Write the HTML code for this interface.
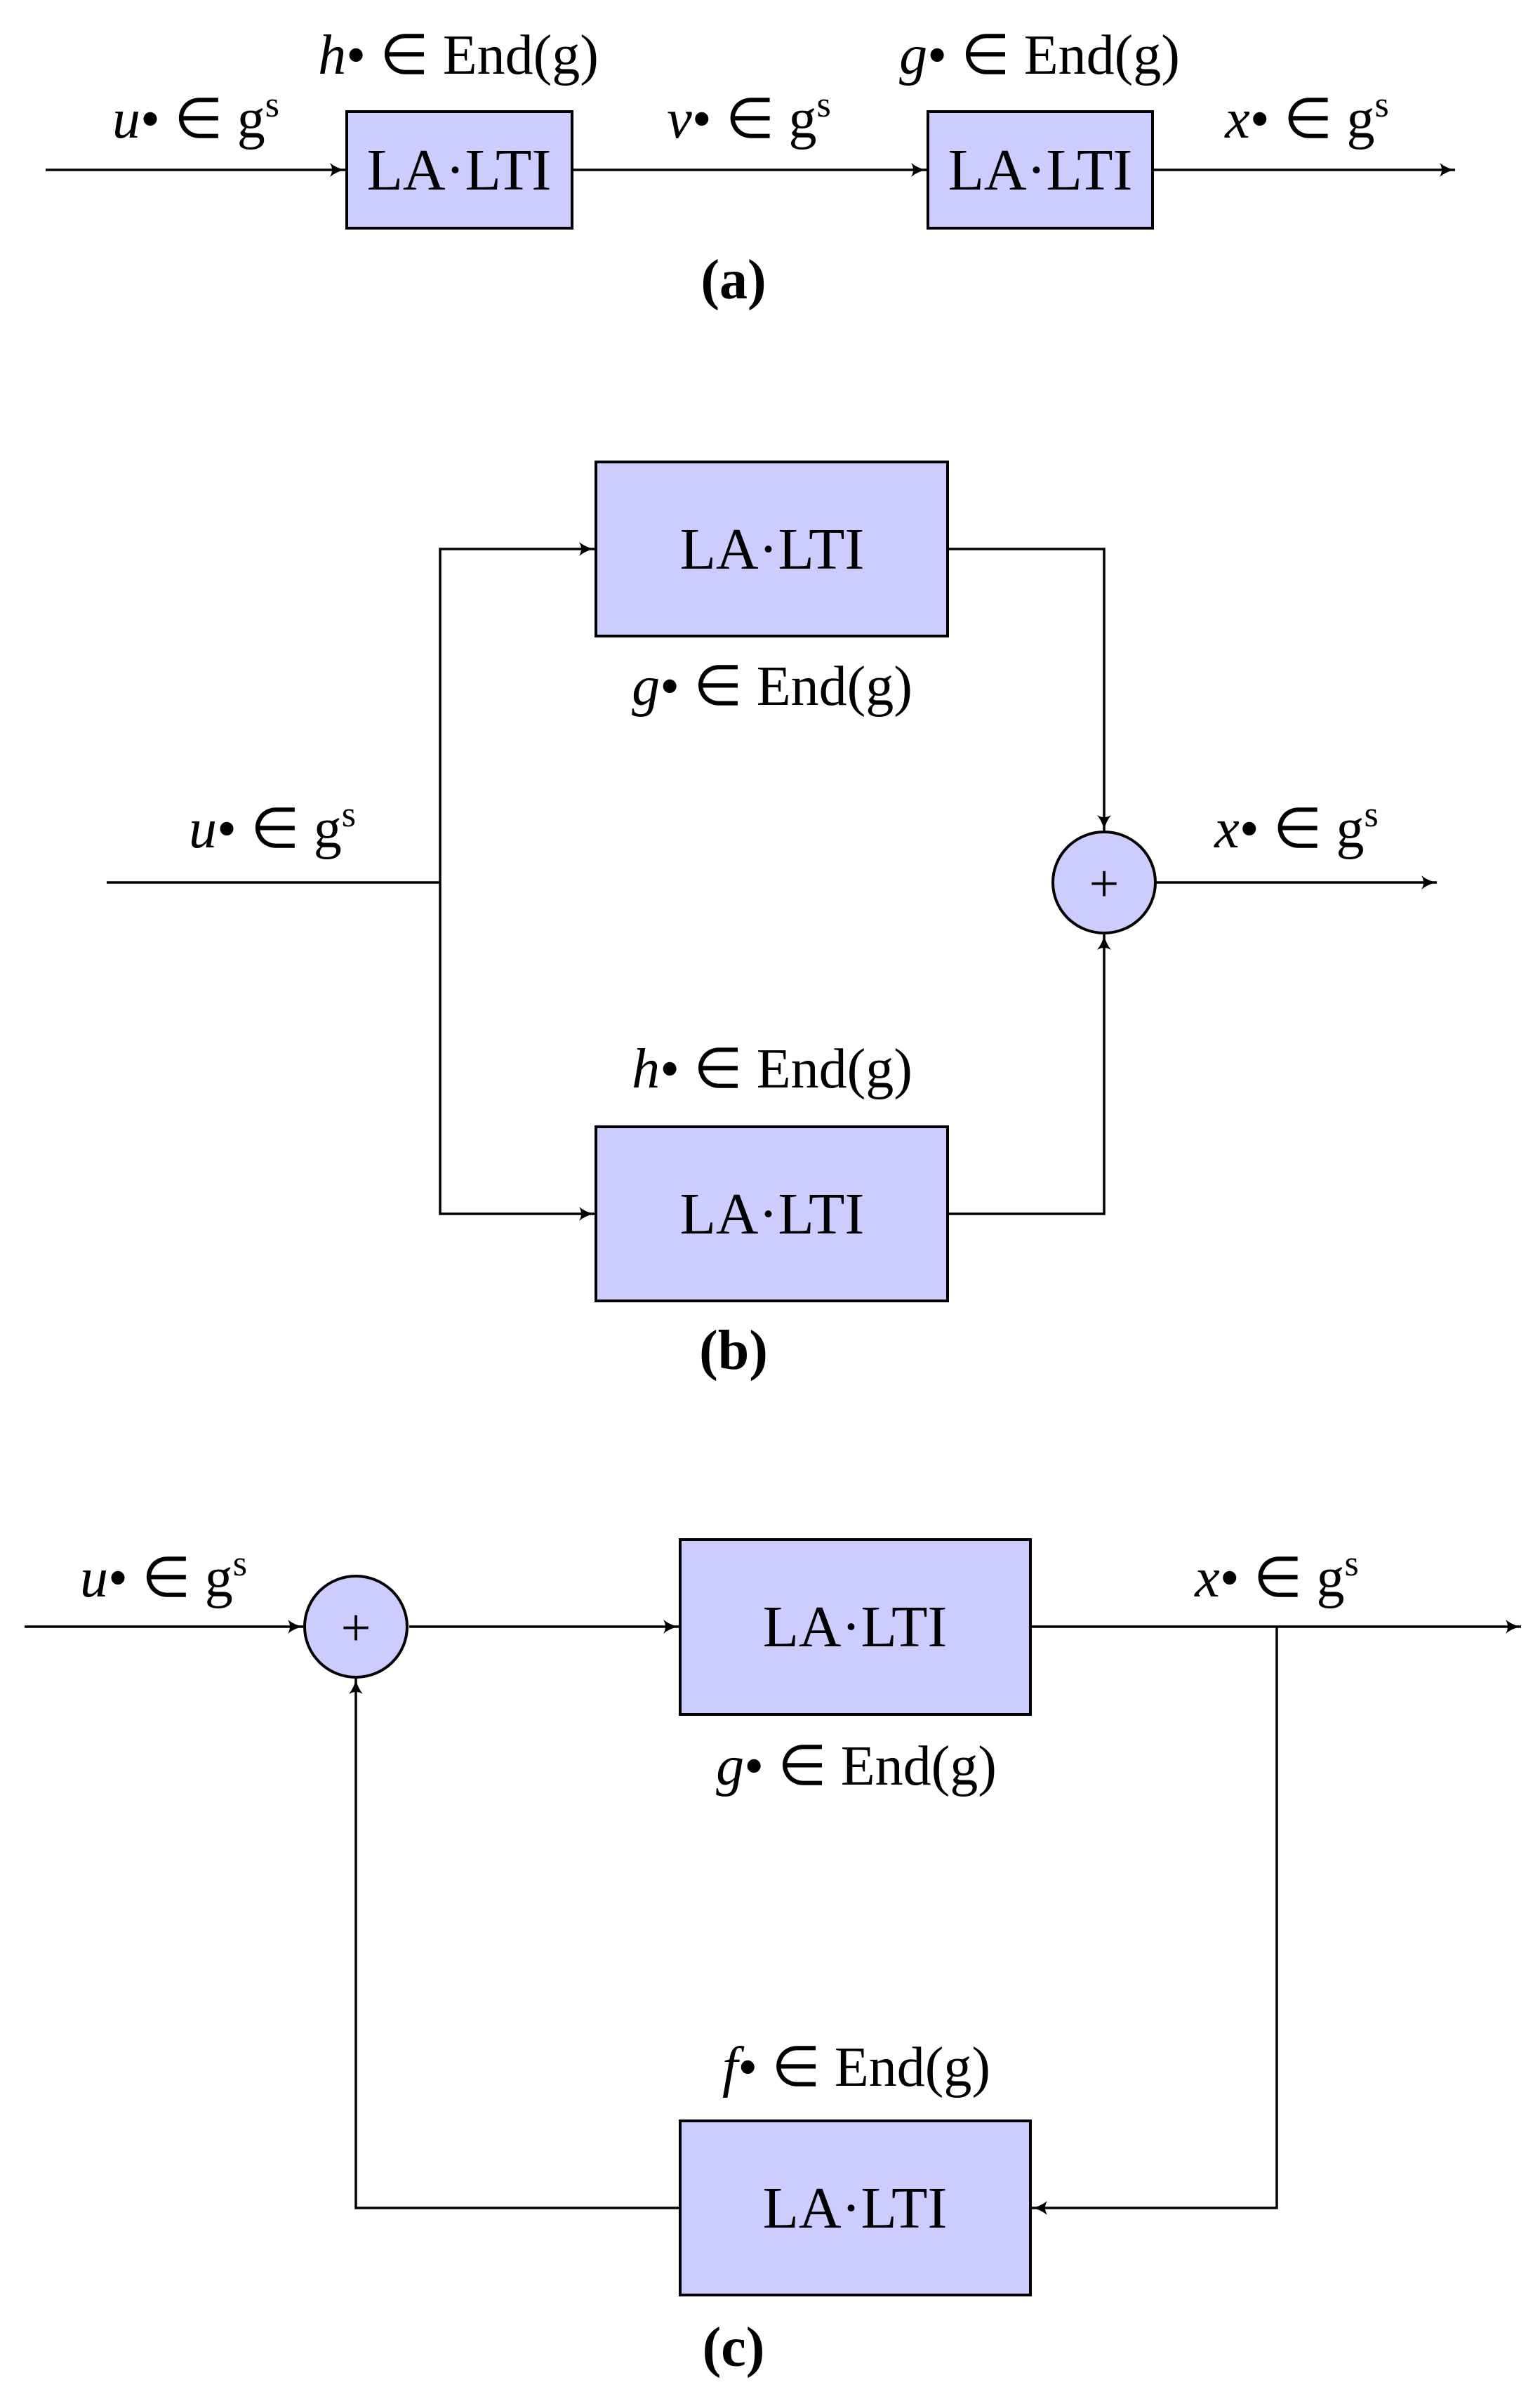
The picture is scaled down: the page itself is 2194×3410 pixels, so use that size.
<!DOCTYPE html>
<html><head><meta charset="utf-8"><style>
html,body{margin:0;padding:0;background:#fff}
svg{display:block}
text{font-family:"Liberation Serif",serif;fill:#000}
.l{font-size:80px;text-anchor:middle}
.b{font-size:84px;text-anchor:middle}
.i{font-style:italic}
</style></head><body>
<svg width="2194" height="3410" viewBox="0 0 2194 3410" xmlns="http://www.w3.org/2000/svg">
<defs>
<marker id="a" viewBox="-2 -12 26 24" markerWidth="26" markerHeight="24" refX="22" refY="0" orient="auto" markerUnits="userSpaceOnUse">
<path d="M0,-10 Q10,-2 22,0 Q10,2 0,10 Q6,0 0,-10Z" fill="#000"/>
</marker>
</defs>
<g fill="none" stroke="#000" stroke-width="3.5">
<!-- (a) -->
<line x1="65" y1="242" x2="492" y2="242" marker-end="url(#a)"/>
<line x1="815" y1="242" x2="1320" y2="242" marker-end="url(#a)"/>
<line x1="1642" y1="242" x2="2073" y2="242" marker-end="url(#a)"/>
<!-- (b) -->
<polyline points="152,1257 627,1257"/>
<polyline points="627,1257 627,782 847,782" marker-end="url(#a)"/>
<polyline points="627,1257 627,1729 847,1729" marker-end="url(#a)"/>
<polyline points="1350,782 1573,782 1573,1183" marker-end="url(#a)"/>
<polyline points="1350,1729 1573,1729 1573,1331" marker-end="url(#a)"/>
<line x1="1646" y1="1257" x2="2047" y2="1257" marker-end="url(#a)"/>
<!-- (c) -->
<line x1="35" y1="2317" x2="432" y2="2317" marker-end="url(#a)"/>
<line x1="583" y1="2317" x2="967" y2="2317" marker-end="url(#a)"/>
<line x1="1468" y1="2317" x2="2167" y2="2317" marker-end="url(#a)"/>
<polyline points="1819,2317 1819,3145 1470,3145" marker-end="url(#a)"/>
<polyline points="969,3145 507,3145 507,2391" marker-end="url(#a)"/>
</g>
<g fill="#ccccff" stroke="#000" stroke-width="4">
<rect x="494" y="159" width="321" height="166"/>
<rect x="1322" y="159" width="320" height="166"/>
<rect x="849" y="658" width="501" height="248"/>
<rect x="849" y="1605" width="501" height="248"/>
<ellipse cx="1573" cy="1257" rx="73" ry="72"/>
<rect x="969" y="2193" width="499" height="249"/>
<rect x="969" y="3021" width="499" height="248"/>
<ellipse cx="507" cy="2317" rx="73" ry="72"/>
</g>
<g class="b">
<text x="654" y="270">LA·LTI</text>
<text x="1482" y="270">LA·LTI</text>
<text x="1100" y="810">LA·LTI</text>
<text x="1100" y="1757">LA·LTI</text>
<text x="1218" y="2345">LA·LTI</text>
<text x="1218" y="3173">LA·LTI</text>
<text x="1573" y="1284" style="font-size:76px">+</text>
<text x="507" y="2344" style="font-size:76px">+</text>
</g>
<g class="l">
<text x="653" y="105"><tspan class="i">h</tspan>• ∈ End(g)</text>
<text x="1481" y="105"><tspan class="i">g</tspan>• ∈ End(g)</text>
<text x="279" y="196"><tspan class="i">u</tspan>• ∈ g<tspan dy="-30" font-size="52">s</tspan></text>
<text x="1067" y="196"><tspan class="i">v</tspan>• ∈ g<tspan dy="-30" font-size="52">s</tspan></text>
<text x="1862" y="196"><tspan class="i">x</tspan>• ∈ g<tspan dy="-30" font-size="52">s</tspan></text>
<text x="1045" y="425" font-weight="bold">(a)</text>

<text x="1100" y="1004"><tspan class="i">g</tspan>• ∈ End(g)</text>
<text x="1100" y="1549"><tspan class="i">h</tspan>• ∈ End(g)</text>
<text x="388" y="1207"><tspan class="i">u</tspan>• ∈ g<tspan dy="-30" font-size="52">s</tspan></text>
<text x="1847" y="1207"><tspan class="i">x</tspan>• ∈ g<tspan dy="-30" font-size="52">s</tspan></text>
<text x="1045" y="1950" font-weight="bold">(b)</text>

<text x="233" y="2274"><tspan class="i">u</tspan>• ∈ g<tspan dy="-30" font-size="52">s</tspan></text>
<text x="1819" y="2274"><tspan class="i">x</tspan>• ∈ g<tspan dy="-30" font-size="52">s</tspan></text>
<text x="1220" y="2542"><tspan class="i">g</tspan>• ∈ End(g)</text>
<text x="1220" y="2971"><tspan class="i">f</tspan>• ∈ End(g)</text>
<text x="1045" y="3370" font-weight="bold">(c)</text>
</g>
</svg>
</body></html>
